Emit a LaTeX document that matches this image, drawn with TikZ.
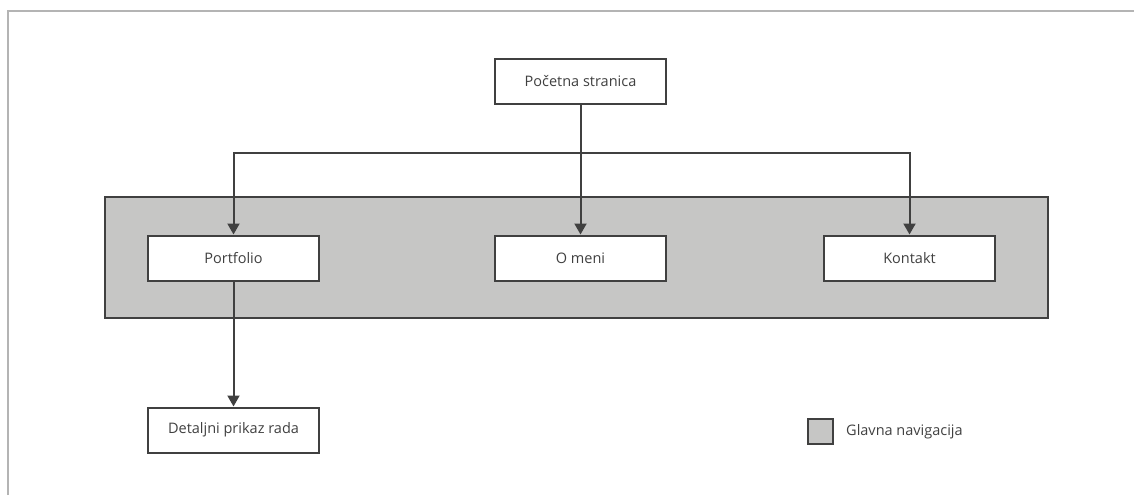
\documentclass[tikz,border=0pt]{standalone}
\usepackage{fontspec}
\setmainfont{Open Sans}
\usetikzlibrary{arrows.meta}
\definecolor{linegray}{HTML}{404040}
\definecolor{panelgray}{HTML}{C6C6C5}
\definecolor{framegray}{HTML}{B4B4B4}
\tikzset{
  page/.style={draw=linegray, line width=2pt, fill=white,
    minimum width=171pt, minimum height=45pt, font=\fontsize{14.5}{17}\selectfont,
    text=linegray, inner sep=0pt},
  link/.style={draw=linegray, line width=2pt, -{Triangle[length=11pt,width=12pt]}}
}
\begin{document}
\begin{tikzpicture}[x=1pt, y=-1pt]
      \useasboundingbox (0,0) rectangle (1134,495);
      \draw[framegray, line width=1.5pt] (8,495) -- (8,11) -- (1134,11);
      \fill[panelgray, draw=linegray, line width=2pt] (105,197) rectangle (1048,318);
      \node[page] (home) at (580.5,81.5) {Početna stranica};
      \node[page] (portfolio) at (233.5,258) {Portfolio};
      \node[page] (about) at (580.5,258) {O meni};
      \node[page] (contact) at (909.5,258) {Kontakt};
      \node[page] (detail) at (233.5,430) {Detaljni prikaz rada};
      \coordinate (split) at (580.5,153);
      \draw[link] (home) -- (about);
      \draw[link] (split) -| (portfolio);
      \draw[link] (split) -| (contact);
      \draw[link] (portfolio) -- (detail);
      % legenda
      \node[draw=linegray, line width=2pt, fill=panelgray, minimum size=25pt,
        inner sep=0pt] (key) at (820.5,431.5) {};
      \node[anchor=west, inner sep=0pt, text=linegray, font=\fontsize{14.5}{17}\selectfont]
        (keytext) at (846,431.5) {Glavna navigacija};
    \end{tikzpicture}
\end{document}
